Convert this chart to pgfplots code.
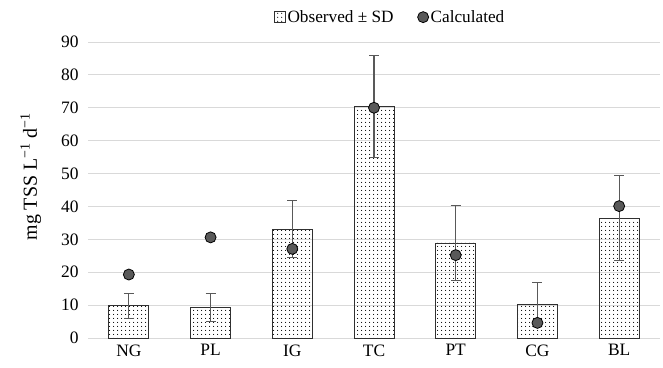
\documentclass[border=0pt]{standalone}
\usepackage{fontspec}
\setmainfont{Liberation Serif}
\usepackage{pgfplots}
\pgfplotsset{compat=1.18}
\usetikzlibrary{patterns}
\definecolor{gridc}{HTML}{D9D9D9}
\definecolor{barc}{HTML}{303030}
\definecolor{errc}{HTML}{595959}
\definecolor{markc}{HTML}{595959}
\pgfdeclarepatternformonly{sparsedots}{\pgfpointorigin}{\pgfpoint{4bp}{4bp}}{\pgfpoint{4bp}{4bp}}{%
  \pgfpathcircle{\pgfpoint{2bp}{2bp}}{0.65bp}\pgfusepath{fill}}
\begin{document}
\begin{tikzpicture}[x=1bp,y=1bp]
\useasboundingbox (0,0) rectangle (663,367);
\begin{axis}[
  at={(88bp,29bp)}, anchor=south west,
  scale only axis, width=572bp, height=296bp,
  xmin=-0.5, xmax=6.5, ymin=0, ymax=90,
  axis line style={draw=none},
  ytick={0,10,...,90},
  xtick={0,...,6},
  xticklabels={NG,PL,IG,TC,PT,CG,BL},
  major tick length=0pt,
  ymajorgrids, grid style={gridc, line width=0.9pt},
  /pgf/number format/assume math mode=true,
  tick label style={font=\fontsize{17.5}{20}\selectfont},
  yticklabel style={xshift=-6bp},
  xticklabel style={yshift=-3bp},
  ylabel={\fontsize{20}{22}\selectfont mg TSS L\textsuperscript{−1} d\textsuperscript{−1}},
  ylabel style={at={(axis description cs:-0.1,0.545)}, anchor=center},
  legend style={at={(0.528,1.084)}, anchor=center, draw=none, fill=none,
    legend columns=2, font=\fontsize{17.3}{19}\selectfont,
    /tikz/every even column/.append style={column sep=22bp}},
  legend cell align=left,
  clip=false,
]
\addplot[ybar, bar width=40bp, draw=barc, line width=0.9pt,
  pattern=sparsedots, pattern color=black,
  legend image code/.code={\draw[barc, line width=0.8pt, pattern=sparsedots, pattern color=black] (0bp,-5.5bp) rectangle (11bp,5.5bp);},
  error bars/.cd, y dir=both, y explicit,
  error bar style={errc, line width=1.2pt},
  error mark options={errc, rotate=90, mark size=5bp, line width=1.2pt}]
  table[x=x, y=y, y error=e] {
  x y e
  0 9.8 3.8
  1 9.3 4.2
  2 33.1 8.7
  3 70.5 15.5
  4 28.9 11.3
  5 10.1 6.7
  6 36.5 12.9
};
\addlegendentry{Observed ± SD}
\addplot[only marks, mark=*, mark size=5.5bp, mark options={fill=markc, draw=black, line width=0.8pt}]
  coordinates {(0,19.3) (1,30.6) (2,27.1) (3,70.0) (4,25.2) (5,4.6) (6,40.1)};
\addlegendentry{Calculated}
\end{axis}
\end{tikzpicture}
\end{document}
